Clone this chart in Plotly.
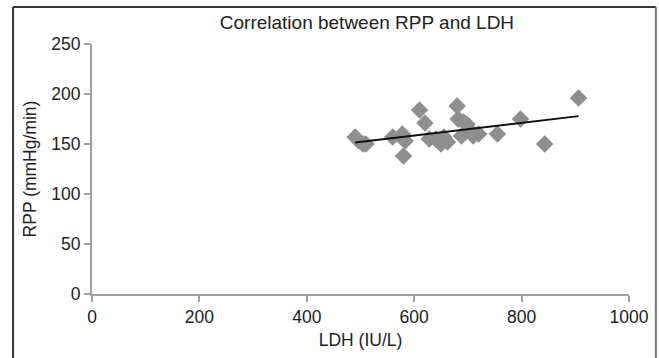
import numpy as np
import plotly.graph_objects as go

ldh = [490, 497, 505, 510, 560, 578, 580, 583, 610, 620, 628, 640, 650, 655, 662,
       680, 682, 688, 692, 698, 702, 710, 720, 755, 798, 843, 906]
rpp = [157, 153, 150, 150, 157, 160, 138, 153, 184, 171, 155, 155, 150, 157, 152,
       188, 175, 158, 172, 170, 165, 158, 160, 160, 175, 150, 196]

x_ticks = [0, 200, 400, 600, 800, 1000]
y_ticks = [0, 50, 100, 150, 200, 250]

slope, intercept = np.polyfit(ldh, rpp, 1)
tx = [min(ldh), max(ldh)]
ty = [slope * v + intercept for v in tx]

FONT = "Liberation Sans, Arial"
TXT = "#222222"

fig = go.Figure()
fig.add_trace(go.Scatter(x=ldh, y=rpp, mode="markers",
                         marker=dict(symbol="diamond", size=13.5, color="#8f8f8f"),
                         showlegend=False, hoverinfo="skip"))
fig.add_trace(go.Scatter(x=tx, y=ty, mode="lines",
                         line=dict(color="#111111", width=2), showlegend=False, hoverinfo="skip"))

axis_common = dict(showgrid=False, zeroline=False, showline=True, linecolor="#a0a0a0",
                   linewidth=2, ticks="outside", tickcolor="#a0a0a0", ticklen=6, tickwidth=1.5,
                   tickfont=dict(family=FONT, size=17.5, color=TXT))

fig.update_layout(
    width=659, height=358,
    margin=dict(l=92, r=30, t=44, b=64, autoexpand=False),
    paper_bgcolor="white", plot_bgcolor="white",
    title=dict(text="Correlation between RPP and LDH", x=0.512, xref="paper", xanchor="center",
               y=1 - 22 / 358, yanchor="middle",
               font=dict(family=FONT, size=19, color=TXT)),
    xaxis=dict(range=[0, 1000], tickvals=x_ticks, title=dict(text="LDH (IU/L)", standoff=8,
               font=dict(family=FONT, size=17.5, color=TXT)), **axis_common),
    yaxis=dict(range=[0, 250], tickvals=y_ticks, title=dict(text="RPP (mmHg/min)", standoff=10,
               font=dict(family=FONT, size=17.5, color=TXT)), **axis_common),
    shapes=[
        dict(type="line", xref="paper", yref="paper", x0=-0.147, x1=-0.147, y0=1.148, y1=-0.26,
             layer="above", line=dict(color="#333333", width=2)),
        dict(type="line", xref="paper", yref="paper", x0=-0.147, x1=1.05, y0=1.148, y1=1.148,
             layer="above", line=dict(color="#333333", width=2)),
        dict(type="line", xref="paper", yref="paper", x0=1.05, x1=1.05, y0=1.148, y1=-0.26,
             layer="above", line=dict(color="#777777", width=2)),
    ],
)

fig.write_html("out.html", config={"displayModeBar": False},
               post_script="document.body.style.margin='0';document.body.style.overflow='hidden';")
